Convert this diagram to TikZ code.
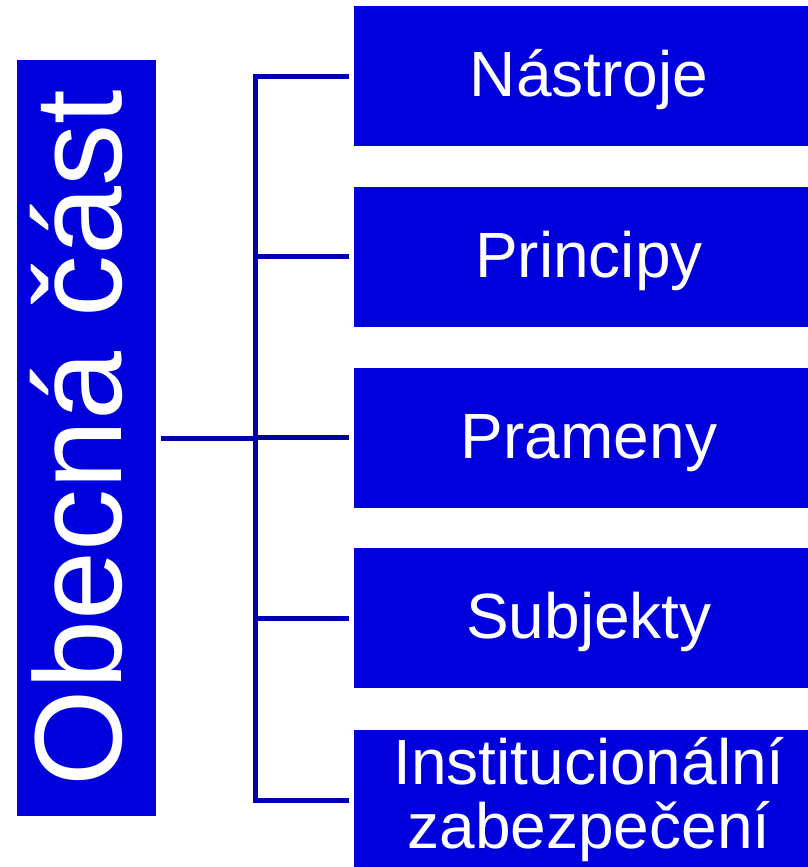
\documentclass[tikz,border=0pt]{standalone}
\usepackage{graphicx}
\usepackage{fontspec}
\setmainfont{Liberation Sans}
\definecolor{boxblue}{RGB}{0,0,221}
\definecolor{lineblue}{RGB}{0,0,170}

\begin{document}
\begin{tikzpicture}[x=1pt, y=-1pt,
general/.style={fill=boxblue, text=white, inner sep=0, outer sep=5pt, minimum width=139pt, minimum height=756pt, font=\fontsize{124}{124}\selectfont},
part/.style={fill=boxblue, text=white, inner sep=0, outer sep=5pt, minimum width=470pt, minimum height=140pt, align=center, font=\fontsize{64}{64}\selectfont},
oneline/.style={text height=50pt, text depth=9pt},
twolines/.style={},
link/.style={lineblue, line width=5pt},
]

%%%%%%%%%%%% SIZE OF THE PICTURE
\useasboundingbox (0,0) rectangle (807,867);

%%%%%%%%% LEFT BOX %%%%%%%%%%%%%
\node[general] (General) at (86.5,438) {\rotatebox{90}{\raisebox{21pt}{Obecná část}}};
\coordinate (Spine) at (255,438);
\draw[link] (General.east)--(Spine);

%%%%%%%%%%%%%%%%%%%%%%%% RIGHT BOXES %%%%%%%%%%%%%%%%%%%%%%%%%%%
\foreach \name/\y/\kind/\label in {Tools/76/oneline/Nástroje,
  Principles/256.5/oneline/Principy, Sources/437.5/oneline/Prameny,
  Subjects/618/oneline/Subjekty,
  Institutions/800/twolines/{Institucionální\\zabezpečení}}{
  \node[part, \kind] (\name) at (589,\y) {\label};
  \draw[link] (Spine) |- (\name.west);
}
\end{tikzpicture}
\end{document}
